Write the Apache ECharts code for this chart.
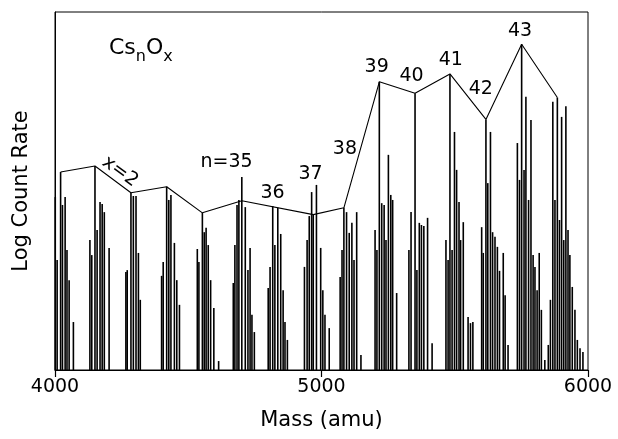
<!DOCTYPE html>
<html>
<head>
<meta charset="utf-8">
<script src="https://cdn.jsdelivr.net/npm/echarts@6/dist/echarts.min.js"></script>
<style>
  html, body { margin: 0; padding: 0; background: #fff; }
  #chart { width: 618px; height: 439px; }
</style>
</head>
<body>
<div id="chart"></div>
<script>
// peak positions (amu), one line per cluster size n = 30 .. 44
var peakMass = [
  4001, 4008, 4021, 4028, 4038, 4045, 4053, 4069,
  4131, 4138, 4150, 4158, 4169, 4177, 4185, 4203,
  4266, 4271, 4285, 4294, 4304, 4313, 4320,
  4400, 4406, 4419, 4427, 4435, 4448, 4457, 4467,
  4534, 4540, 4553, 4560, 4567, 4575, 4584, 4596, 4614,
  4669, 4675, 4683, 4690, 4701, 4714, 4724, 4732, 4739, 4748,
  4800, 4807, 4817, 4825, 4836, 4847, 4856, 4863, 4872,
  4936, 4946, 4954, 4963, 4969, 4981, 4997, 5005, 5013, 5029,
  5070, 5077, 5084, 5094, 5104, 5114, 5122, 5132, 5148,
  5201, 5208, 5217, 5226, 5235, 5242, 5251, 5260, 5267, 5282,
  5328, 5336, 5351, 5358, 5367, 5375, 5384, 5398, 5415,
  5467, 5475, 5482, 5490, 5499, 5507, 5516, 5522, 5532, 5550, 5559, 5568,
  5601, 5607, 5617, 5624, 5634, 5642, 5651, 5660, 5668, 5682, 5689, 5700,
  5735, 5743, 5751, 5760, 5767, 5777, 5786, 5794, 5801, 5809, 5817, 5825, 5838,
  5851, 5859, 5868, 5876, 5885, 5893, 5901, 5909, 5917, 5925, 5932, 5941, 5951, 5960, 5970, 5981
]
// peak heights (log count rate, arbitrary units 0-100)
var peakLevel = [
  48.3, 30.7, 55.3, 46.1, 48.3, 33.5, 25.1, 13.4,
  36.3, 32.1, 57.0, 39.1, 46.9, 46.4, 44.1, 34.1,
  27.4, 27.9, 49.5, 48.6, 48.6, 32.7, 19.6,
  26.3, 30.2, 51.2, 47.5, 48.9, 35.5, 25.1, 18.2,
  33.8, 30.2, 43.9, 38.5, 39.7, 34.9, 25.1, 17.3, 2.5,
  24.3, 34.9, 46.1, 47.5, 53.9, 45.5, 27.9, 34.1, 15.4, 10.6,
  22.9, 28.8, 45.8, 34.9, 45.3, 38.0, 22.3, 13.4, 8.4,
  28.8, 36.3, 43.0, 49.7, 43.4, 51.7, 34.1, 22.3, 15.4, 11.7,
  26.0, 33.5, 45.3, 44.1, 38.3, 41.1, 30.7, 44.1, 4.2,
  39.1, 33.5, 80.5, 46.6, 46.1, 36.3, 60.1, 48.9, 47.5, 21.5,
  33.5, 44.1, 77.3, 27.9, 41.1, 40.5, 40.2, 42.5, 7.5,
  36.3, 30.7, 82.7, 33.5, 66.5, 55.9, 46.9, 36.3, 41.3, 14.8, 13.1, 13.4,
  39.9, 32.7, 70.0, 52.2, 66.5, 38.5, 37.2, 34.4, 27.7, 32.7, 20.9, 7.0,
  63.4, 53.1, 91.0, 55.9, 76.3, 47.5, 69.8, 32.1, 28.8, 22.3, 32.7, 16.8, 2.8,
  7.0, 19.6, 74.9, 47.5, 76.1, 41.9, 70.7, 36.3, 73.7, 39.1, 32.1, 23.2, 16.8, 8.4, 6.1, 5.0
]

// envelope joining the group maxima
var envMass = [4021, 4150, 4285, 4419, 4553, 4701, 4969, 5084, 5217, 5351, 5482, 5617, 5751, 5885]
var envLevel = [55.3, 57.0, 49.5, 51.2, 43.9, 47.3, 43.4, 45.3, 80.5, 77.3, 82.7, 70.0, 91.0, 76.1]

// annotations
var labelText = ['x=2', 'n=35', '36', '37', '38', '39', '40', '41', '42', '43']
var labelMass = [4244, 4644, 4816, 4959, 5088, 5207, 5338, 5485, 5598, 5745]
var labelLevel = [55.4, 58.1, 49.4, 54.7, 61.7, 84.5, 82.1, 86.5, 78.5, 94.7]
var labelRotate = [-36, 0, 0, 0, 0, 0, 0, 0, 0, 0]

var xTicks = [4000, 5000, 6000]

var FONT = 'DejaVu Sans'

var chart = echarts.init(document.getElementById('chart'))

var peaks = peakMass.map(function (m, i) { return [m, peakLevel[i]] })
var envelope = envMass.map(function (m, i) { return [m, envLevel[i]] })
var labels = labelText.map(function (t, i) {
  return {
    value: [labelMass[i], labelLevel[i], t],
    label: { rotate: labelRotate[i] }
  }
})

chart.setOption({
  animation: false,
  backgroundColor: '#fff',
  grid: {
    left: 55,
    right: 30,
    top: 12,
    bottom: 69,
    show: true,
    borderColor: '#000',
    borderWidth: 1
  },
  xAxis: {
    type: 'value',
    min: xTicks[0],
    max: xTicks[xTicks.length - 1],
    interval: 1000,
    name: 'Mass (amu)',
    nameLocation: 'middle',
    nameGap: 40,
    nameTextStyle: { fontFamily: FONT, fontSize: 21, color: '#000' },
    axisLine: { lineStyle: { color: '#000', width: 1.2 } },
    axisTick: { show: true, inside: false, length: 7, lineStyle: { color: '#000', width: 1.2 } },
    axisLabel: {
      fontFamily: FONT,
      fontSize: 19,
      color: '#000',
      margin: 8,
      formatter: function (v) { return String(v) }
    },
    splitLine: { show: false }
  },
  yAxis: {
    type: 'value',
    min: 0,
    max: 100,
    name: 'Log Count Rate',
    nameLocation: 'middle',
    nameGap: 23,
    nameTextStyle: { fontFamily: FONT, fontSize: 21, color: '#000' },
    axisLine: { show: true, lineStyle: { color: '#000', width: 1 } },
    axisTick: { show: false },
    axisLabel: { show: false },
    splitLine: { show: false }
  },
  graphic: [{
    type: 'text',
    left: 109,
    top: 37,
    style: {
      text: '{m|Cs}{s|n}{m|O}{s|x}',
      fill: '#000',
      rich: {
        m: { fontFamily: FONT, fontSize: 22, lineHeight: 28, verticalAlign: 'top', fill: '#000' },
        s: { fontFamily: FONT, fontSize: 16, lineHeight: 28, verticalAlign: 'bottom', fill: '#000' }
      }
    }
  }],
  series: [
    {
      type: 'custom',
      data: peaks,
      renderItem: function (params, api) {
        var top = api.coord([api.value(0), api.value(1)])
        var base = api.coord([api.value(0), 0])
        return {
          type: 'line',
          shape: { x1: top[0], y1: top[1], x2: base[0], y2: base[1] },
          style: { stroke: '#000', lineWidth: 1.6 }
        }
      }
    },
    {
      type: 'line',
      data: envelope,
      symbol: 'none',
      lineStyle: { color: '#000', width: 1.1 },
      z: 3
    },
    {
      type: 'scatter',
      data: labels,
      symbolSize: 0,
      itemStyle: { color: '#000', opacity: 1 },
      label: {
        show: true,
        position: 'inside',
        fontFamily: FONT,
        fontSize: 19,
        color: '#000',
        opacity: 1,
        textBorderWidth: 0,
        formatter: function (p) { return p.value[2] }
      },
      z: 4
    }
  ]
})
</script>
</body>
</html>
